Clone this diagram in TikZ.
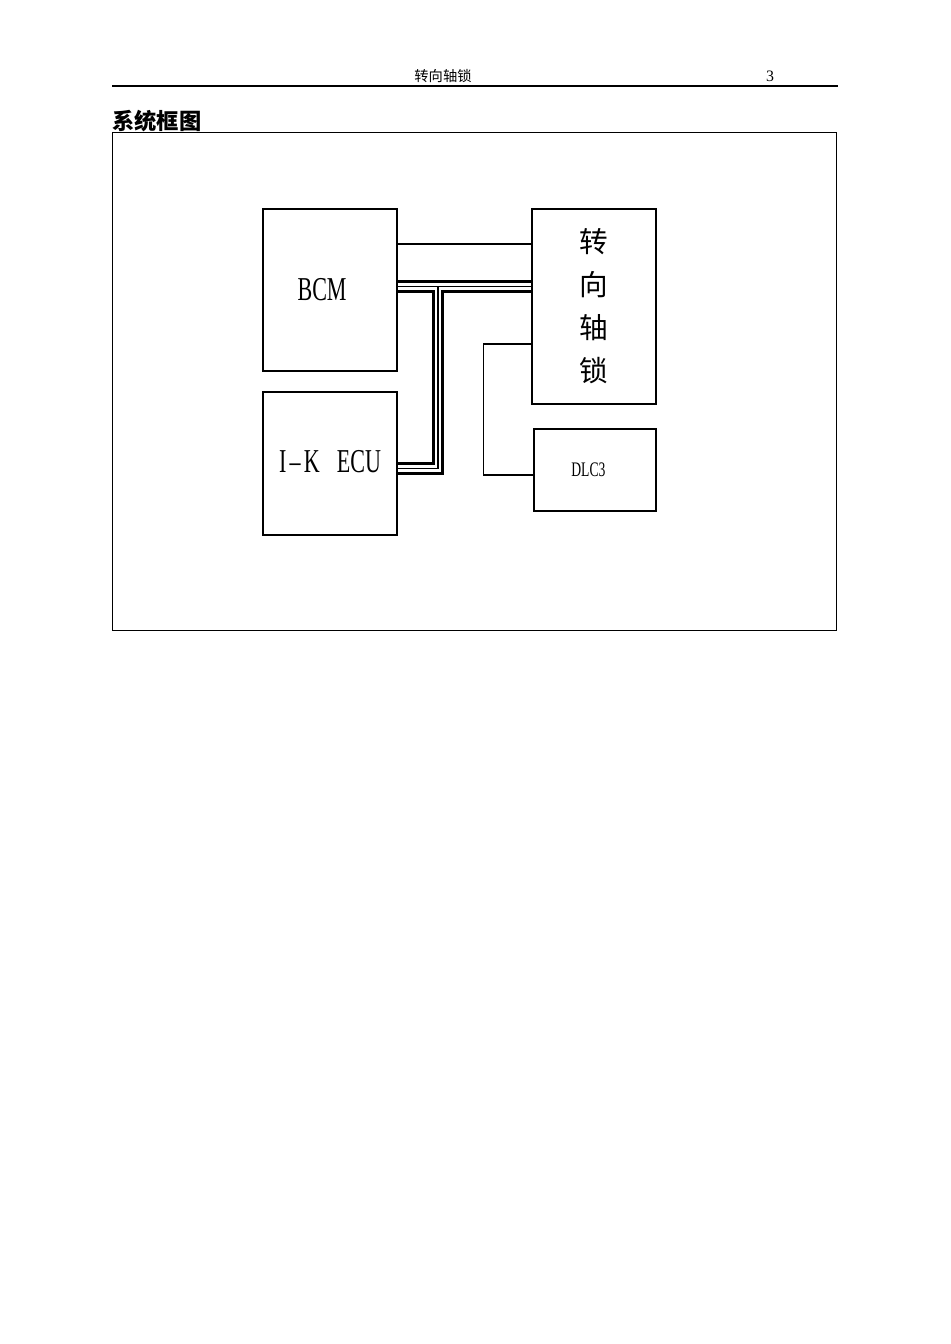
\documentclass[tikz,border=0pt]{standalone}
\usepackage{fontspec}
\setmainfont{Liberation Serif}
\newfontfamily\narrowfont[FakeStretch=0.66]{Liberation Serif}
\newfontfamily\cjk{Noto Sans CJK SC}
\usetikzlibrary{shapes,arrows}
\tikzstyle{block} = [rectangle, draw, line width=1pt, text centered, inner sep=0pt]
\tikzstyle{line} = [draw, line width=0.7pt]
\tikzstyle{bus} = [draw, line width=8pt, postaction={draw, white, line width=4.4pt},
postaction={draw, black, line width=0.8pt}]

\begin{document}
\begin{tikzpicture}[node distance=1cm,auto]
      \useasboundingbox (0,0) rectangle (21,-29.7095);
      % page head
      \node [font=\cjk\fontsize{9}{10}\selectfont] (head) at (9.793,-1.68) {转向轴锁};
      \node [font=\fontsize{10}{12}\selectfont] (page) at (17.021,-1.68) {3};
      \coordinate (headL) at (2.476,-1.901);
      \coordinate (headR) at (18.524,-1.901);
      \draw [line width=0.8pt] (headL) -- (headR);
      \node [font=\cjk\bfseries\fontsize{14}{16}\selectfont, anchor=west, inner sep=0pt] (title) at (2.476,-2.675) {系统框图};
      \draw [line width=0.5pt] (2.476,-2.918) rectangle (18.480,-13.926);

      \node [block, minimum width=2.962cm, minimum height=3.581cm, font=\narrowfont\fontsize{21}{25}\selectfont] (bcm) at (7.295,-6.411) {BCM\hspace*{0.35cm}};
      \node [block, below of=bcm, yshift=-2.835cm, minimum width=2.962cm, minimum height=3.161cm, font=\narrowfont\fontsize{21}{25}\selectfont] (ecu) {\raisebox{0.11cm}{I\hspace{2pt}–\hspace{2pt}K\hspace{0.38cm}ECU}};
      \node [block, minimum width=2.741cm, minimum height=4.311cm, align=center, font=\cjk\fontsize{18}{27}\selectfont] (lock) at (13.130,-6.775) {转\\向\\轴\\锁};
      \node [block, below of=lock, yshift=-2.615cm, xshift=0.022cm, minimum width=2.697cm, minimum height=1.813cm, font=\narrowfont\fontsize{13}{15}\selectfont] (dlc) {\raisebox{-0.11cm}{DLC3}\hspace*{0.29cm}};

      \coordinate (sigL) at ([yshift=1.017cm]bcm.east);
      \coordinate (busL) at ([yshift=0.077cm]bcm.east);
      \coordinate (busJ) at (9.682,-6.334);
      \coordinate (busE) at ([yshift=-0.106cm]ecu.east);
      \coordinate (kL) at ([yshift=-0.829cm]lock.west);
      \coordinate (kD) at ([yshift=-0.11cm]dlc.west);

      \path [line] (sigL) -- (sigL -| lock.west);
      \path [bus] (busL) -- (busL -| lock.west) (busJ) |- (busE);
      \path [line] (kL) -- ++(-1.061,0) |- (kD);
\end{tikzpicture}
\end{document}
